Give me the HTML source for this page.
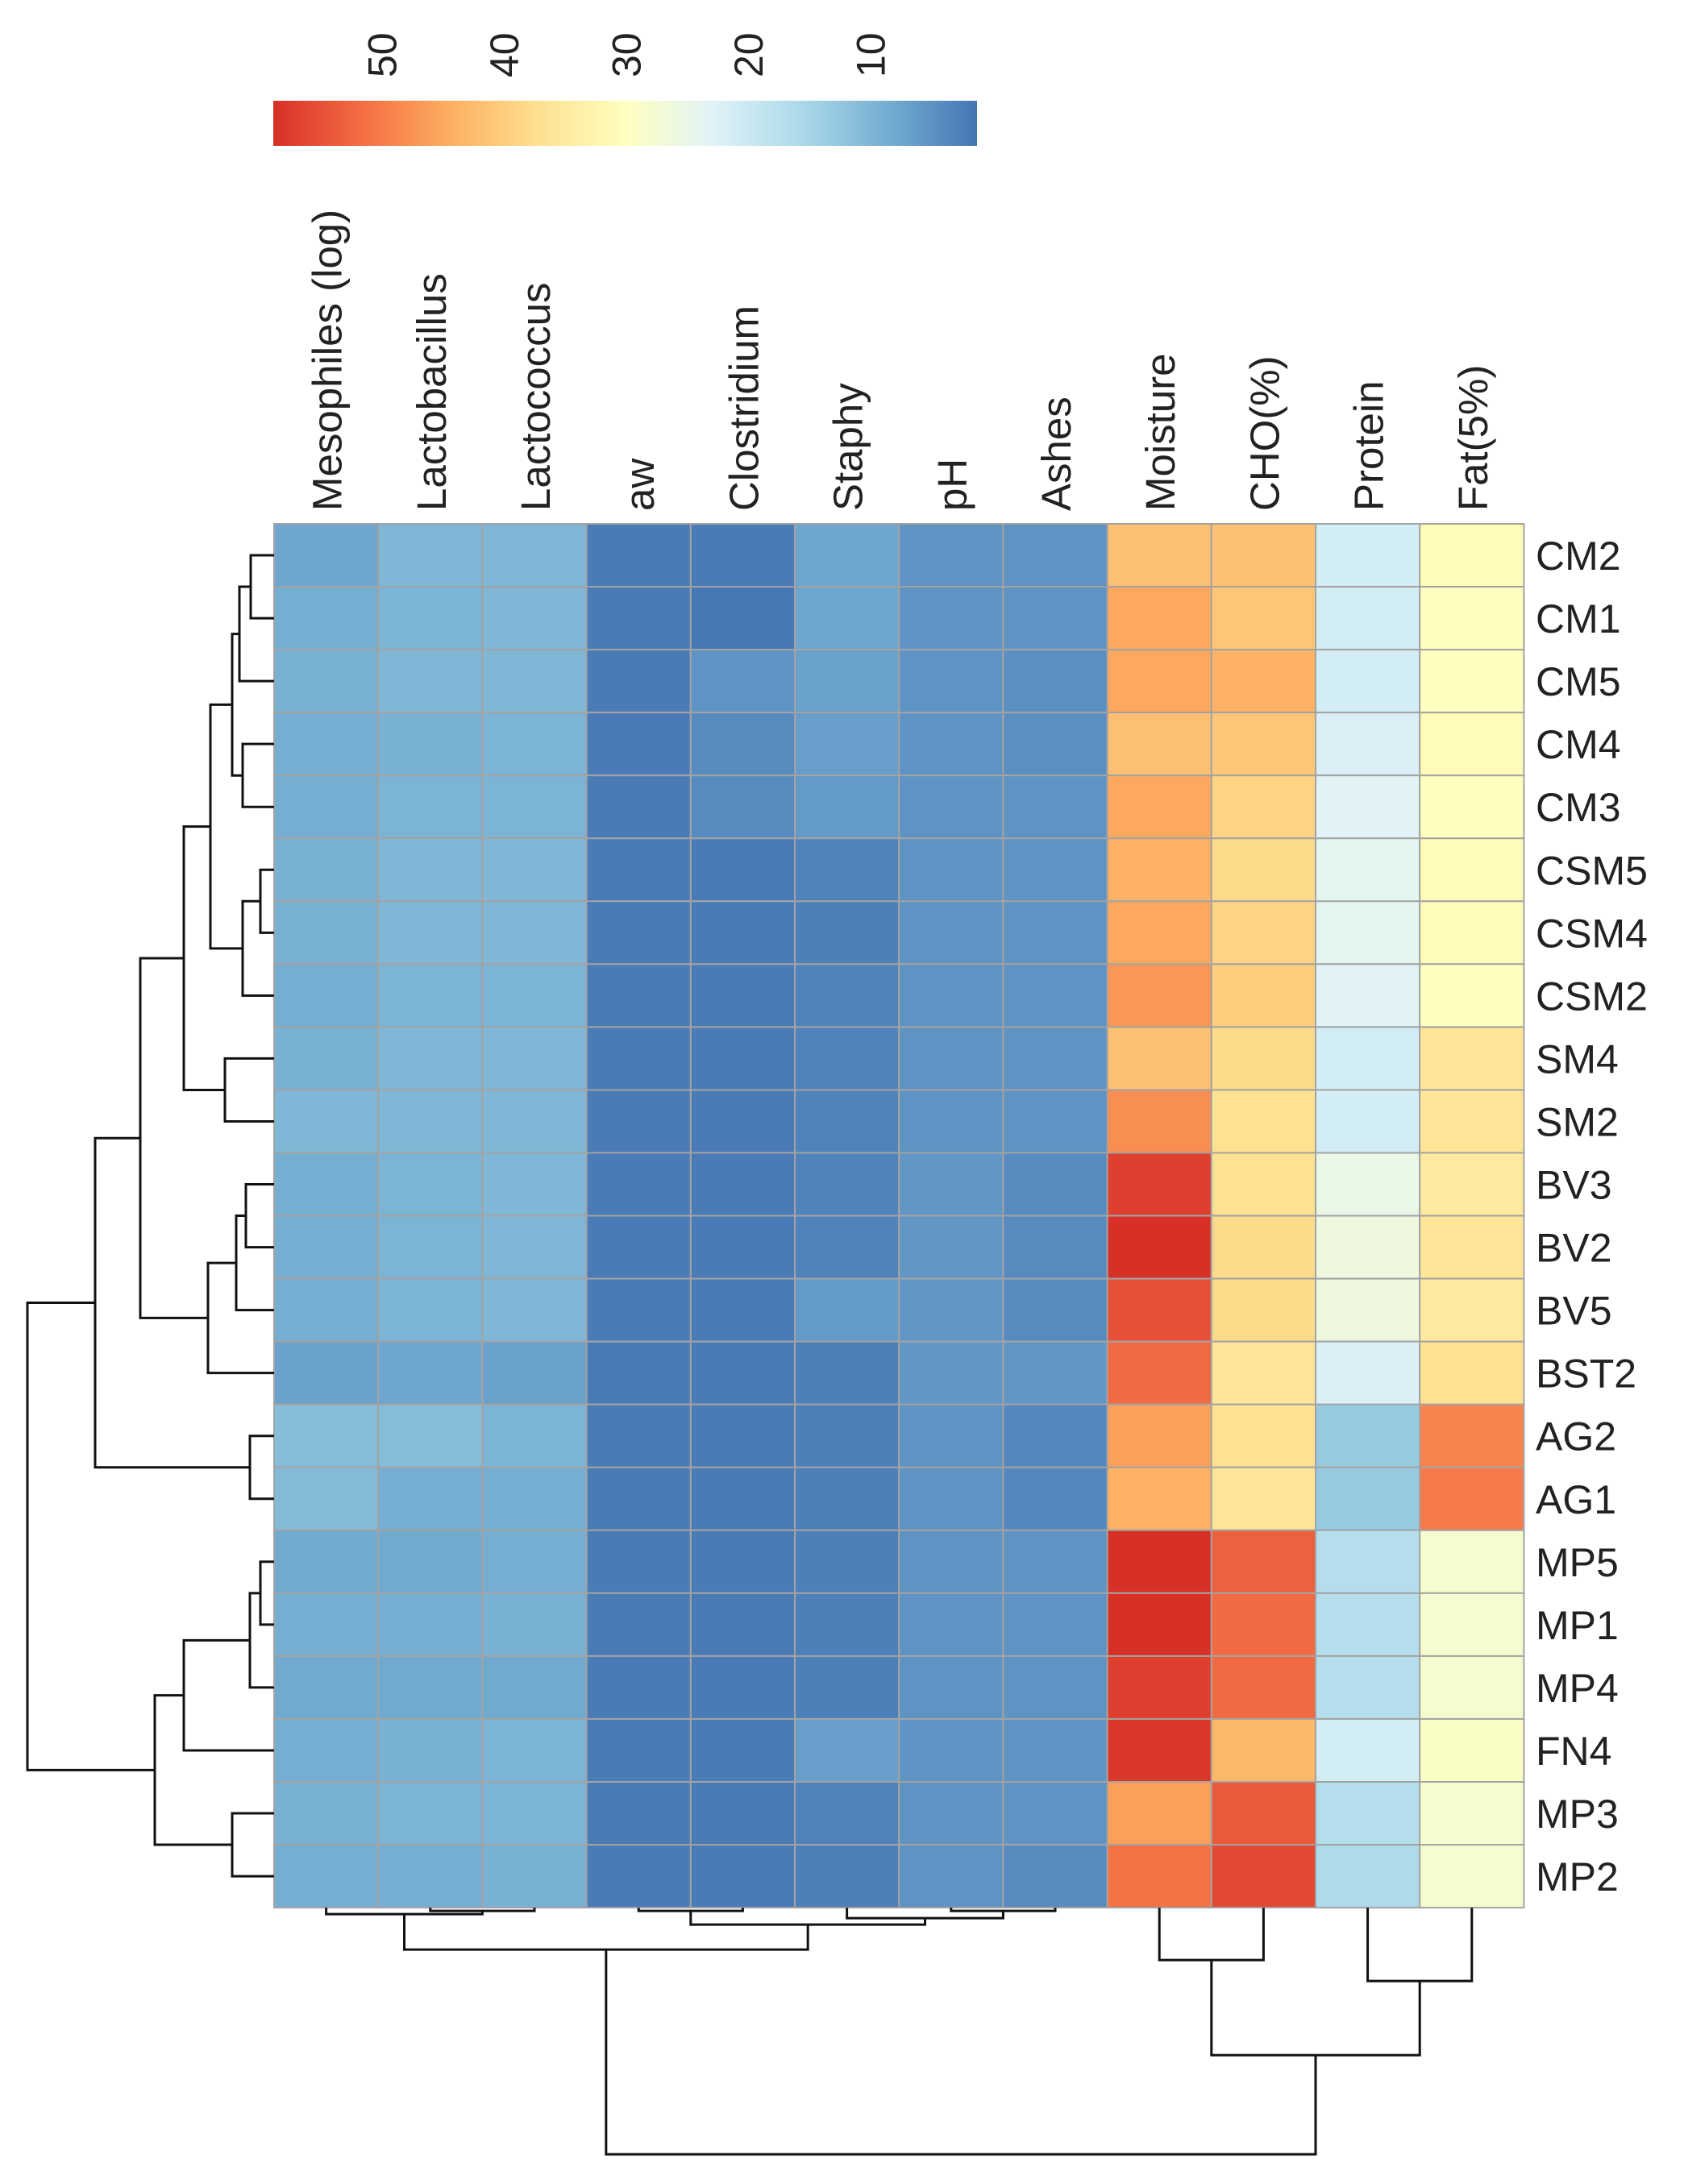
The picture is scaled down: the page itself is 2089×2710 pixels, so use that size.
<!DOCTYPE html>
<html><head><meta charset="utf-8"><style>
html,body{margin:0;padding:0;background:#fff;}
svg{display:block;font-family:"Liberation Sans",Arial,sans-serif;}
</style></head><body>
<svg id="chart" width="2089" height="2710" viewBox="0 0 2089 2710" xmlns="http://www.w3.org/2000/svg">
<defs>
<linearGradient id="cbgrad" x1="0" x2="1" y1="0" y2="0">
<stop offset="0" stop-color="#d73027"/><stop offset="0.125" stop-color="#f46d43"/><stop offset="0.25" stop-color="#fdae61"/><stop offset="0.375" stop-color="#fee090"/><stop offset="0.5" stop-color="#ffffbf"/><stop offset="0.625" stop-color="#e0f3f8"/><stop offset="0.75" stop-color="#abd9e9"/><stop offset="0.875" stop-color="#74add1"/><stop offset="1" stop-color="#4575b4"/>
</linearGradient>
</defs>
<g id="colorbar"></g>
<g id="collabels"></g>
<g id="cells"></g>
<g id="rowlabels"></g>
<g id="rowdend"></g>
<g id="coldend"></g>
</svg>
<script>
const columns = ["Mesophiles (log)","Lactobacillus","Lactococcus","aw","Clostridium","Staphy","pH","Ashes","Moisture","CHO(%)","Protein","Fat(5%)"];
const rows = ["CM2","CM1","CM5","CM4","CM3","CSM5","CSM4","CSM2","SM4","SM2","BV3","BV2","BV5","BST2","AG2","AG1","MP5","MP1","MP4","FN4","MP3","MP2"];
const values = [
[7.5,10,10,2,2,7.5,5,5,42,42,21,31],
[8.5,9.5,10,2,1.5,7.5,5,5,45,41,21,30],
[9,10,10,2,5,7,5,4.5,45,44,21,30],
[8.5,9,9.5,2,4,6.5,5,4.5,42,41,22,31],
[8.5,9.5,9.5,2,4,6,5,5,45,39,23,30],
[9,10,10,2,2,3,5,5,44,38,24,31],
[9,10,10,2,2,2.5,5,5,45,39,24,31],
[8.5,9.5,9.5,2,2,3,5,5,47,40,23,30],
[9,10,10,2,2,3,5,5,42,38,21,36],
[10,10,10,2,2,3,5,5,48,37,21,36],
[8.5,9.5,10,2,2,3,5.5,4,57,37,25,35],
[8.5,9.5,10,2,2,3,5.5,4,59,38,26,36],
[8.5,9.5,10,2,2,6,5.5,4,55,38,26,35],
[7,7.5,7,2,2,2.5,5.5,5.5,52,36,22,37],
[11,11,9.5,2,2,2.5,5,3.5,46,37,13,49],
[10.5,8.5,8.5,2,2,2.5,5,3.5,44,36,13,50],
[8,8,8.5,2,2,2.5,5,5,59,53,17,28],
[8.5,8.5,9,2,2,2.5,5,5,59,52,17,28],
[8,8,8,2,2,2.5,5,5,57,52,17,28],
[8.5,9,9.5,2,2,6.5,5,5,58,43,21,29],
[9,9.5,9.5,2,2,3,5,5,46,54,17,28],
[8.5,8.5,9,2,2,2.5,5,4,51,56,16,28]];
const cbTicks = [50,40,30,20,10];
const rowMerges = [[0,1,29],["n0",2,43],[3,4,39],["n1","n2",52],[5,6,17],["n4",7,39],["n3","n5",79],[8,9,61],["n6","n7",112],[10,11,35],["n9",12,47],["n10",13,82],["n8","n11",166],[14,15,30],["n12","n13",222],[16,17,17],["n15",18,30],["n16",19,112],[20,21,52],["n17","n18",148],["n14","n19",306]];
const colMerges = [[1,2,4],[0,"n0",8],[3,4,4],[6,7,4],[5,"n3",13],["n2","n4",21],["n1","n5",52],[8,9,65],[10,11,91],["n7","n8",183],["n6","n9",306]];

const NS="http://www.w3.org/2000/svg";
const GX=340, GY=650, CW=129.2, RH=78.05;
const VMIN=1.2, VMAX=58.8;
const stops=["#d73027","#f46d43","#fdae61","#fee090","#ffffbf","#e0f3f8","#abd9e9","#74add1","#4575b4"];
function hex(c){return [1,3,5].map(i=>parseInt(c.substr(i,2),16));}
function color(v){let f=(VMAX-v)/(VMAX-VMIN);f=Math.max(0,Math.min(1,f));const p=f*8;const i=Math.min(7,Math.floor(p));const t=p-i;const a=hex(stops[i]),b=hex(stops[i+1]);return "rgb("+a.map((x,k)=>Math.round(x+(b[k]-x)*t)).join(",")+")";}
const xCol=i=>GX+i*CW, yRow=i=>GY+i*RH;
const cbX=v=>339+(VMAX-v)/(VMAX-VMIN)*873;
function el(tag,attrs,parent){const e=document.createElementNS(NS,tag);for(const k in attrs)e.setAttribute(k,attrs[k]);parent.appendChild(e);return e;}

const cb=document.getElementById('colorbar');
const cbr=el('rect',{x:339,y:125,width:873,height:56,fill:"url(#cbgrad)"},cb);


cbTicks.forEach(t=>{const x=cbX(t);const tx=el('text',{x:x+19,y:96,transform:`rotate(-90 ${x+19} 96)`,'font-size':50,fill:'#222'},cb);tx.textContent=t;

});

const cl=document.getElementById('collabels');
columns.forEach((c,i)=>{const x=xCol(i)+CW/2+19,y=634;const t=el('text',{x:x,y:y,transform:`rotate(-90 ${x} ${y})`,'font-size':51,fill:'#222'},cl);t.textContent=c;

});

const cg=document.getElementById('cells');
values.forEach((r,ri)=>r.forEach((v,ci)=>{const rc=el('rect',{x:xCol(ci),y:yRow(ri),width:CW,height:RH,fill:color(v),stroke:'#a3a3a3','stroke-width':2},cg);

}));

const rl=document.getElementById('rowlabels');
rows.forEach((r,i)=>{const t=el('text',{x:1905,y:yRow(i)+RH/2+18,'font-size':50,fill:'#222'},rl);t.textContent=r;

});

function drawDend(merges,n,leafPos,g,orient){const pos={},ht={};for(let i=0;i<n;i++){pos[i]=leafPos(i);ht[i]=0;}
merges.forEach((m,k)=>{const a=m[0],b=m[1],h=m[2];const pa=pos[a],pb=pos[b];let d;
if(orient==='row'){const X=GX-h,xa=GX-ht[a],xb=GX-ht[b];d=`M${xa},${pa}H${X}V${pb}H${xb}`;}
else{const GB=GY+rows.length*RH;const Y=GB+h,ya=GB+ht[a],yb=GB+ht[b];d=`M${pa},${ya}V${Y}H${pb}V${yb}`;}
const p=el('path',{d:d,fill:'none',stroke:'#111','stroke-width':3},g);


pos['n'+k]=(pa+pb)/2;ht['n'+k]=h;});}
drawDend(rowMerges,rows.length,i=>yRow(i)+RH/2,document.getElementById('rowdend'),'row');
drawDend(colMerges,columns.length,i=>xCol(i)+CW/2,document.getElementById('coldend'),'col');
</script>
</body></html>
